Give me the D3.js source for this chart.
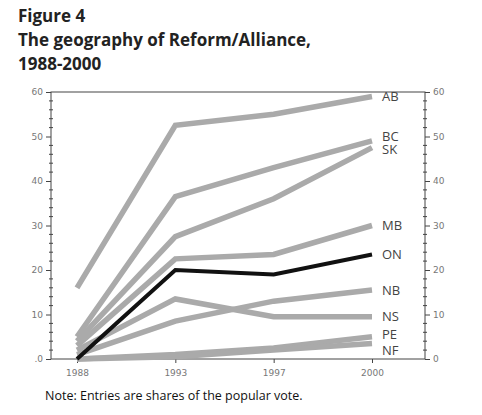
<!DOCTYPE html>
<html><head><meta charset="utf-8">
<script src="https://cdn.jsdelivr.net/npm/d3@7"></script>
<style>body{margin:0;background:#fff;font-family:"Open Sans",sans-serif;}</style>
</head><body><svg id="c" width="482" height="415"></svg>
<script>
var years = ["1988", "1993", "1997", "2000"];
var provinces = ["AB", "BC", "SK", "MB", "ON", "NB", "NS", "PE", "NF"];
var AB = [16, 52.5, 55, 59];
var BC = [5, 36.5, 43, 49];
var SK = [4, 27.5, 36, 47.5];
var MB = [3, 22.5, 23.5, 30];
var ON = [0, 20, 19, 23.5];
var NB = [1, 8.5, 13, 15.5];
var NS = [2, 13.5, 9.5, 9.5];
var PE = [0, 1, 2.5, 5];
var NF = [0, 0.5, 2, 3.5];
var series = {AB: AB, BC: BC, SK: SK, MB: MB, ON: ON, NB: NB, NS: NS, PE: PE, NF: NF};
// label y positions (values) where labels would overlap
var labelAt = {AB: 59, BC: 50, SK: 47, MB: 30, ON: 23.5, NB: 15.5, NS: 9.5, PE: 5.5, NF: 2};
var yTicks = [0, 10, 20, 30, 40, 50, 60];

var svg = d3.select("#c");
svg.append("text").attr("x", 18).attr("y", 22).attr("font-weight", "bold").attr("font-size", 17).attr("fill", "#222").text("Figure 4");
svg.append("text").attr("x", 18).attr("y", 46).attr("font-weight", "bold").attr("font-size", 17).attr("fill", "#222").text("The geography of Reform/Alliance,");
svg.append("text").attr("x", 18).attr("y", 70).attr("font-weight", "bold").attr("font-size", 17).attr("fill", "#222").text("1988-2000");
svg.append("text").attr("x", 45).attr("y", 400).attr("font-size", 12.5).attr("fill", "#111").text("Note: Entries are shares of the popular vote.");

var plotLeft = 51, plotRight = 425, plotTop = 92, plotBottom = 359;
var x = d3.scalePoint().domain(years).range([77, 372]);
var y = d3.scaleLinear().domain([0, 60]).range([plotBottom, plotTop]);

svg.append("rect").attr("x", plotLeft).attr("y", plotTop).attr("width", plotRight - plotLeft).attr("height", plotBottom - plotTop)
    .attr("fill", "none").attr("stroke", "#444").attr("stroke-width", 1);

var leftAxis = d3.axisLeft(y).tickValues(yTicks).tickSize(5).tickFormat(function (d) { return d === 0 ? ".0" : d; });
var rightAxis = d3.axisRight(y).tickValues(yTicks).tickSize(5);
[[leftAxis, plotLeft], [rightAxis, plotRight]].forEach(function (a) {
    var g = svg.append("g").attr("transform", "translate(" + a[1] + ",0)").call(a[0]);
    g.select(".domain").remove();
    g.selectAll("text").attr("fill", "#777").attr("font-size", 9).attr("font-family", "DejaVu Sans");
    g.selectAll("line").attr("stroke", "#444");
    var minor = d3.range(0, 61, 2).filter(function (d) { return d % 10; });
    g.selectAll(".mn").data(minor).enter().append("line")
        .attr("x1", -2).attr("x2", 2).attr("y1", y).attr("y2", y).attr("stroke", "#444");
});

var xg = svg.append("g").attr("transform", "translate(0," + plotBottom + ")")
    .call(d3.axisBottom(x).tickSize(4));
xg.select(".domain").remove();
xg.selectAll("line").attr("stroke", "#444");
xg.selectAll("text").attr("fill", "#777").attr("font-size", 9).attr("font-family", "DejaVu Sans").attr("dy", "1.1em");

var line = d3.line().x(function (d, i) { return x(years[i]); }).y(function (d) { return y(d); });
var order = provinces.filter(function (p) { return p !== "ON"; }).concat(["ON"]);
order.forEach(function (p) {
    svg.append("path").datum(series[p]).attr("d", line).attr("fill", "none")
        .attr("stroke", p === "ON" ? "#111" : "#aaa").attr("stroke-width", p === "ON" ? 4 : 5.5);
});
provinces.forEach(function (p) {
    svg.append("text").attr("x", 382).attr("y", y(labelAt[p])).attr("dy", "0.35em")
        .attr("font-size", 13).attr("fill", "#444").text(p);
});
</script></body></html>
